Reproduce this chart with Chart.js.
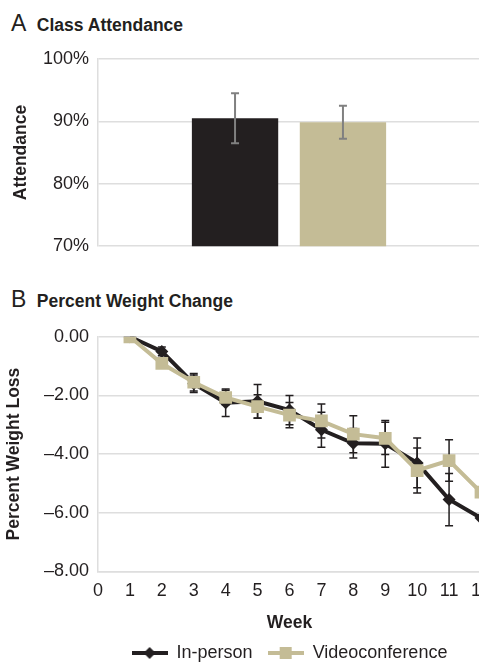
<!DOCTYPE html>
<html>
<head>
<meta charset="utf-8">
<script src="https://cdn.jsdelivr.net/npm/chart.js@4.4.1/dist/chart.umd.min.js"></script>
<style>
  html, body { margin: 0; padding: 0; width: 479px; height: 663px; overflow: hidden; background: #fff; }
  body { position: relative; font-family: "Liberation Sans", Arial, sans-serif; color: #231f20; }
  .panel-title { position: absolute; left: 11px; font-size: 23px; line-height: 23px; white-space: nowrap; }
  .panel-title b { font-size: 17.5px; margin-left: 10.5px; }
  canvas { position: absolute; left: 0; }
</style>
</head>
<body>
<div class="panel-title" style="top: 11.5px;">A<b>Class Attendance</b></div>
<div class="panel-title" style="top: 287.5px;">B<b>Percent Weight Change</b></div>
<canvas id="attendanceChart" width="480" height="227" style="top: 38.5px;"></canvas>
<canvas id="weightChart" width="500" height="355" style="top: 317px;"></canvas>
<script>
// panel A data
const groups = [''];
const inPersonAttendance = [90.5];
const inPersonAttendanceErr = [4.0];
const videoAttendance = [89.85];
const videoAttendanceErr = [2.65];
const attendanceTicks = [70, 80, 90, 100];

// panel B data (weeks 1-12)
const weeks = [1, 2, 3, 4, 5, 6, 7, 8, 9, 10, 11, 12];
const inPersonLoss = [0, -0.5, -1.6, -2.25, -2.2, -2.5, -3.17, -3.63, -3.65, -4.3, -5.55, -6.18];
const inPersonLossErr = [0, 0.15, 0.3, 0.47, 0.57, 0.5, 0.6, 0.5, 0.8, 0.85, 0.89, 0];
const videoLoss = [0, -0.91, -1.55, -2.07, -2.38, -2.67, -2.87, -3.32, -3.46, -4.56, -4.22, -5.3];
const videoLossErr = [0, 0.1, 0.3, 0.25, 0.4, 0.43, 0.58, 0.63, 0.55, 0.77, 0.71, 0];
const weekTicks = [0, 1, 2, 3, 4, 5, 6, 7, 8, 9, 10, 11, 12];
const lossTicks = [0, -2, -4, -6, -8];

const BLACK = '#231f20';
const TAN = '#c4bc96';
const GRID = '#dedede';
const FONT = '"Liberation Sans", Arial, sans-serif';

Chart.defaults.font.family = FONT;
Chart.defaults.color = BLACK;

// draws error bars from dataset.errors using the chart's own y scale
function drawErrorBars(chart, opts) {
    const ctx = chart.ctx;
    const yScale = chart.scales.y;
    ctx.save();
    ctx.strokeStyle = opts.color;
    ctx.lineWidth = opts.width;
    chart.data.datasets.forEach((ds, i) => {
        const meta = chart.getDatasetMeta(i);
        meta.data.forEach((el, j) => {
            const raw = ds.data[j];
            const v = typeof raw === 'object' ? raw.y : raw;
            const e = ds.errors[j];
            if (!e) return;
            const top = yScale.getPixelForValue(v + e);
            const bot = yScale.getPixelForValue(v - e);
            const x = el.x;
            ctx.beginPath();
            ctx.moveTo(x, top); ctx.lineTo(x, bot);
            ctx.moveTo(x - opts.cap, top); ctx.lineTo(x + opts.cap, top);
            ctx.moveTo(x - opts.cap, bot); ctx.lineTo(x + opts.cap, bot);
            ctx.stroke();
        });
    });
    ctx.restore();
}

const errorBarPlugin = {
    id: 'errorBars',
    beforeDatasetsDraw(chart, args, opts) { if (!opts.onTop) drawErrorBars(chart, opts); },
    afterDatasetsDraw(chart, args, opts) { if (opts.onTop) drawErrorBars(chart, opts); }
};

// fixed-width y axis so both plots start at the same x
function fixWidth(w) {
    return function (scale) { scale.width = w; };
}

const ctxAttendance = document.getElementById('attendanceChart').getContext('2d');
const attendanceChart = new Chart(ctxAttendance, {
    type: 'bar',
    data: {
        labels: groups,
        datasets: [{
            label: 'In-person',
            data: inPersonAttendance,
            errors: inPersonAttendanceErr,
            backgroundColor: BLACK
        }, {
            label: 'Videoconference',
            data: videoAttendance,
            errors: videoAttendanceErr,
            backgroundColor: TAN
        }]
    },
    options: {
        responsive: false,
        animation: false,
        devicePixelRatio: 1,
        categoryPercentage: 0.565,
        barPercentage: 0.8,
        layout: { padding: 0 },
        scales: {
            x: {
                display: false
            },
            y: {
                min: 70,
                max: 100,
                afterFit: fixWidth(98),
                afterBuildTicks: function (scale) {
                    scale.ticks = attendanceTicks.map(v => ({ value: v }));
                },
                grid: { color: GRID, lineWidth: 1.5, drawTicks: false },
                border: { color: GRID, width: 1.5 },
                ticks: {
                    padding: 9,
                    font: { size: 18 },
                    callback: function (value) { return value + '%'; }
                },
                title: {
                    display: true,
                    text: 'Attendance',
                    font: { size: 17.5, weight: 'bold' },
                    padding: { top: 11, bottom: 0 }
                }
            }
        },
        plugins: {
            legend: { display: false },
            tooltip: { enabled: false },
            errorBars: { color: '#808080', width: 2, cap: 4, onTop: true }
        }
    },
    plugins: [errorBarPlugin]
});

// small line+marker icons for the legend
function legendIcon(color, style) {
    const c = document.createElement('canvas');
    c.width = 36; c.height = 14;
    const g = c.getContext('2d');
    g.strokeStyle = color; g.fillStyle = color; g.lineWidth = 4;
    g.beginPath(); g.moveTo(0, 7); g.lineTo(36, 7); g.stroke();
    g.beginPath();
    if (style === 'diamond') {
        g.moveTo(18, 1); g.lineTo(24, 7); g.lineTo(18, 13); g.lineTo(12, 7);
    } else {
        g.rect(12, 1, 12, 12);
    }
    g.closePath(); g.fill();
    return c;
}
const legendIcons = [legendIcon(BLACK, 'diamond'), legendIcon(TAN, 'square')];

const ctxWeight = document.getElementById('weightChart').getContext('2d');
const weightChart = new Chart(ctxWeight, {
    type: 'line',
    data: {
        datasets: [{
            label: 'In-person',
            data: weeks.map((w, i) => ({ x: w, y: inPersonLoss[i] })),
            errors: inPersonLossErr,
            borderColor: BLACK,
            backgroundColor: BLACK,
            borderWidth: 4,
            pointStyle: 'rectRot',
            pointRadius: 6.5,
            pointBorderWidth: 0,
            order: 2
        }, {
            label: 'Videoconference',
            data: weeks.map((w, i) => ({ x: w, y: videoLoss[i] })),
            errors: videoLossErr,
            borderColor: TAN,
            backgroundColor: TAN,
            borderWidth: 4,
            pointStyle: 'rect',
            pointRadius: 9,
            pointBorderWidth: 0,
            order: 1
        }]
    },
    options: {
        responsive: false,
        animation: false,
        devicePixelRatio: 1,
        layout: { padding: { bottom: 0 } },
        scales: {
            x: {
                type: 'linear',
                min: 0,
                max: 12,
                afterBuildTicks: function (scale) {
                    scale.ticks = weekTicks.map(v => ({ value: v }));
                },
                grid: { display: false, drawTicks: false },
                border: { color: GRID, width: 1.5 },
                ticks: { padding: 9, font: { size: 18 } },
                title: {
                    display: true,
                    text: 'Week',
                    font: { size: 17.5, weight: 'bold', lineHeight: '11px' },
                    padding: { top: 7, bottom: 0 }
                }
            },
            y: {
                min: -8,
                max: 0,
                afterFit: fixWidth(98),
                afterBuildTicks: function (scale) {
                    scale.ticks = lossTicks.map(v => ({ value: v }));
                },
                grid: { color: GRID, lineWidth: 1.5, drawTicks: false },
                border: { color: GRID, width: 1.5 },
                ticks: {
                    padding: 9,
                    font: { size: 18 },
                    callback: function (value) {
                        return (value < 0 ? '\u2013' : '') + Math.abs(value).toFixed(2);
                    }
                },
                title: {
                    display: true,
                    text: 'Percent Weight Loss',
                    font: { size: 17.5, weight: 'bold' },
                    padding: { top: 4, bottom: 0 }
                }
            }
        },
        plugins: {
            legend: {
                position: 'bottom',
                fullSize: false,
                labels: {
                    usePointStyle: true,
                    pointStyleWidth: 36,
                    padding: 15,
                    font: { size: 18 },
                    sort: (a, b) => a.datasetIndex - b.datasetIndex,
                    generateLabels: function (chart) {
                        const items = Chart.defaults.plugins.legend.labels.generateLabels(chart);
                        items.forEach(item => { item.pointStyle = legendIcons[item.datasetIndex]; });
                        return items;
                    }
                }
            },
            tooltip: { enabled: false },
            errorBars: { color: BLACK, width: 1.5, cap: 4, onTop: false }
        }
    },
    plugins: [errorBarPlugin]
});
</script>
</body>
</html>
